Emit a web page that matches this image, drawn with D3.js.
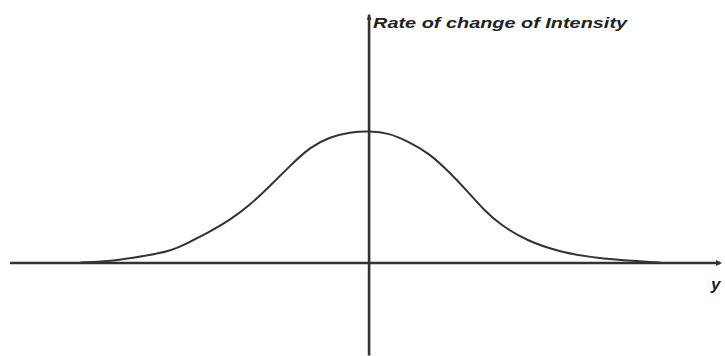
<!DOCTYPE html>
<html>
<head>
<meta charset="utf-8">
<script src="https://cdn.jsdelivr.net/npm/d3@7"></script>
<style>
  html, body { margin: 0; padding: 0; background: #fff; }
  svg { display: block; }
</style>
</head>
<body>
<script>
// Sampled profile of the rate of change of intensity along y
const yPositions = [-3.28, -2.95, -2.72, -2.26, -2.034, -1.807, -1.58, -1.352, -1.125, -0.90, -0.67, -0.443, -0.216, 0, 0.227, 0.455, 0.68, 0.91, 1.136, 1.307, 1.49, 1.80, 2.17, 2.63, 3.31];
const rates      = [0.004, 0.014, 0.035, 0.085, 0.161, 0.237, 0.326, 0.44, 0.585, 0.735, 0.88, 0.955, 0.992, 1.0, 0.985, 0.917, 0.833, 0.69, 0.53, 0.40, 0.29, 0.165, 0.083, 0.03, 0.004];

const axisTitleY = "Rate of change of Intensity";
const axisTitleX = "y";

const W = 725, H = 356;
const ink = "#333";

const x = d3.scaleLinear().domain([-4.08, 4.01]).range([10, 722]);
const y = d3.scaleLinear().domain([0, 1]).range([263, 131]);

const svg = d3.select("body").append("svg")
  .attr("width", W).attr("height", H);

// horizontal axis (y direction)
svg.append("line")
  .attr("x1", x(-4.08)).attr("x2", x(4.01) - 2)
  .attr("y1", y(0)).attr("y2", y(0))
  .attr("stroke", ink).attr("stroke-width", 2.6);
svg.append("path")
  .attr("d", d3.line()([[x(4.01) - 6, y(0) - 3], [x(4.01), y(0)], [x(4.01) - 6, y(0) + 3]]))
  .attr("fill", ink);

// vertical axis
svg.append("line")
  .attr("x1", x(0)).attr("x2", x(0))
  .attr("y1", y(1.88)).attr("y2", y(-0.7))
  .attr("stroke", ink).attr("stroke-width", 2.6);
svg.append("path")
  .attr("d", d3.line()([[x(0) - 2.5, y(1.88) + 5], [x(0), y(1.88) - 1], [x(0) + 2.5, y(1.88) + 5]]))
  .attr("fill", ink);

// bell-shaped curve, smoothed through the samples
const pts = yPositions.map((v, i) => [v, rates[i]]);
svg.append("path")
  .datum(pts)
  .attr("fill", "none")
  .attr("stroke", ink)
  .attr("stroke-width", 2)
  .attr("d", d3.line().x(d => x(d[0])).y(d => y(d[1])).curve(d3.curveBasis));

// axis titles
svg.append("text")
  .attr("x", x(0) + 4).attr("y", 28)
  .attr("font-family", "Liberation Sans, Arial, sans-serif")
  .attr("font-size", 15)
  .attr("font-style", "italic")
  .attr("font-weight", "bold")
  .attr("fill", "#222")
  .attr("textLength", 254)
  .attr("lengthAdjust", "spacingAndGlyphs")
  .text(axisTitleY);

svg.append("text")
  .attr("x", 711).attr("y", 290)
  .attr("font-family", "Liberation Sans, Arial, sans-serif")
  .attr("font-size", 17)
  .attr("font-style", "italic")
  .attr("font-weight", "bold")
  .attr("fill", "#222")
  .text(axisTitleX);
</script>
</body>
</html>
